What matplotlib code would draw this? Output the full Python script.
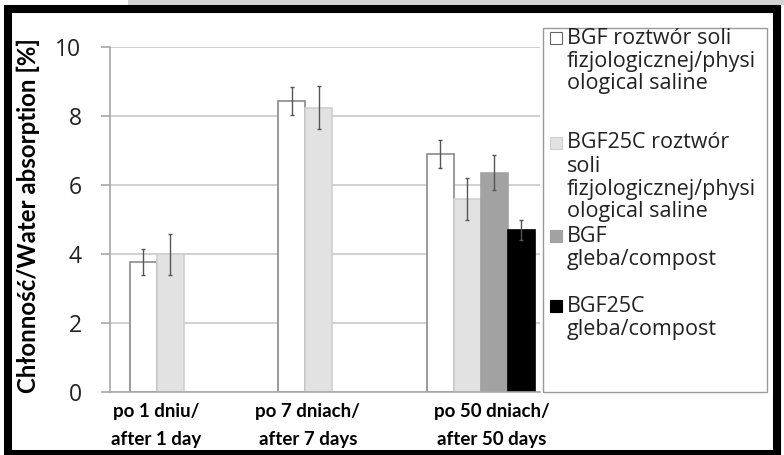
import numpy as np
import matplotlib
matplotlib.use("Agg")
import matplotlib.pyplot as plt
from matplotlib.patches import Rectangle

# dane
categories = ["po 1 dniu/\nafter 1 day", "po 7 dniach/\nafter 7 days", "po 50 dniach/\nafter 50 days"]
series_labels = [
    "BGF roztwór soli\nfizjologicznej/physi\nological saline",
    "BGF25C roztwór\nsoli\nfizjologicznej/physi\nological saline",
    "BGF\ngleba/compost",
    "BGF25C\ngleba/compost",
]
bgf_saline = [3.76, 8.44, 6.90]
bgf_saline_err = [0.38, 0.40, 0.41]
bgf25c_saline = [3.99, 8.24, 5.60]
bgf25c_saline_err = [0.60, 0.62, 0.61]
bgf_compost = [np.nan, np.nan, 6.36]
bgf_compost_err = [0, 0, 0.50]
bgf25c_compost = [np.nan, np.nan, 4.70]
bgf25c_compost_err = [0, 0, 0.30]
y_ticks = [0, 2, 4, 6, 8, 10]

W, H = 784, 455
plt.rcParams["font.family"] = ["Lato", "DejaVu Sans"]

fig = plt.figure(figsize=(W / 100, H / 100), dpi=100)
fig.patch.set_facecolor("white")

def fx(px):
    return px / W

def fy(py):
    return 1 - py / H

# szare pasmo u góry i czarna ramka
fig.patches.append(Rectangle((fx(128), fy(5)), 1, 5 / H, transform=fig.transFigure,
                             facecolor="#d3d3d3", edgecolor="none", zorder=0))
fig.patches.append(Rectangle((fx(8), fy(454)), (777 - 8) / W, (454 - 9) / H,
                             transform=fig.transFigure, fill=False, edgecolor="black",
                             linewidth=5.8, zorder=5))

ax = fig.add_axes([fx(110), fy(392), 430 / W, 345 / H])

series = [
    (bgf_saline, bgf_saline_err, "#ffffff", "#8a8a8a"),
    (bgf25c_saline, bgf25c_saline_err, "#e2e2e2", "#cfcfcf"),
    (bgf_compost, bgf_compost_err, "#a2a2a2", "#a2a2a2"),
    (bgf25c_compost, bgf25c_compost_err, "#000000", "#000000"),
]
group_step = 5.5
centers = np.arange(len(categories)) * group_step
for j, (vals, errs, fc, ec) in enumerate(series):
    x = centers + (j - 1.5)
    ax.bar(x, vals, width=1.0, color=fc, edgecolor=ec, linewidth=1.2, zorder=2,
           yerr=errs, error_kw=dict(ecolor="#555555", elinewidth=1.0, capsize=1.5,
                                    capthick=1.0, zorder=3))

ax.set_xlim(-2.74, 13.19)
ax.set_ylim(0, 10)
ax.set_yticks(y_ticks)
ax.set_yticklabels([str(t) for t in y_ticks], fontsize=16.5, family=["Open Sans", "DejaVu Sans"],
                   color="#222222")
ax.yaxis.grid(True, color="#c8c8c8", linewidth=1.2, zorder=0)
ax.set_axisbelow(True)
for s in ["top", "right"]:
    ax.spines[s].set_visible(False)
for s in ["left", "bottom"]:
    ax.spines[s].set_color("#a8a8a8")
    ax.spines[s].set_linewidth(1.2)
ax.tick_params(axis="y", length=6.5, width=1.2, color="#a8a8a8", pad=14)

# podpisy kategorii nie są w oryginale wyśrodkowane na grupach
label_shift = np.array([-1.04, -0.91, 0.41])
ax.set_xticks(centers + label_shift)
ax.set_xticklabels(categories, fontsize=13.5, fontweight="bold", linespacing=1.75)
ax.tick_params(axis="x", length=0, pad=8)

fig.text(fx(28), fy(216), "Chłonność/Water absorption [%]", rotation=90,
         ha="center", va="center", fontsize=17.3, fontweight="bold")

# legenda rysowana ręcznie (układ jak w Excelu)
fig.patches.append(Rectangle((fx(543), fy(392)), 224 / W, 364 / H, transform=fig.transFigure,
                             facecolor="white", edgecolor="#9a9a9a", linewidth=1.0, zorder=1))
entry_top = [38, 143, 236, 306]
line_step = 23
for (vals, errs, fc, ec), label, y0 in zip(series, series_labels, entry_top):
    fig.patches.append(Rectangle((fx(550), fy(y0 + 6)), 12 / W, 12 / H, transform=fig.transFigure,
                                 facecolor=fc, edgecolor="#666666" if fc == "#ffffff" else ec,
                                 linewidth=0.8, zorder=2))
    for k, line in enumerate(label.split("\n")):
        fig.text(fx(567), fy(y0 + k * line_step), line, ha="left", va="center",
                 fontsize=15.5, color="#222222", family=["Open Sans", "DejaVu Sans"])

fig.savefig("out.png", dpi=100)
